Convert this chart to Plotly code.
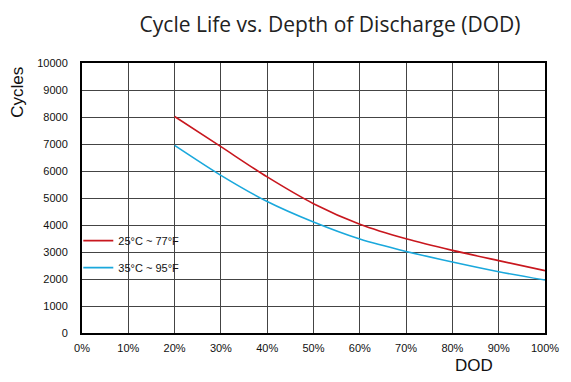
import plotly.graph_objects as go

dod = [20, 30, 40, 50, 60, 70, 80, 90, 100]
cycles_25c = [8020, 6900, 5780, 4790, 4030, 3490, 3060, 2680, 2310]
cycles_35c = [6950, 5840, 4870, 4110, 3480, 3020, 2630, 2270, 1960]
series_names = ["25°C ~ 77°F", "35°C ~ 95°F"]
x_ticks = [0, 10, 20, 30, 40, 50, 60, 70, 80, 90, 100]
y_ticks = [0, 1000, 2000, 3000, 4000, 5000, 6000, 7000, 8000, 9000, 10000]

fig = go.Figure()
fig.add_trace(go.Scatter(x=dod, y=cycles_25c, mode="lines", name=series_names[0],
                         legendgroup="a",
                         line=dict(color="#c8171e", width=1.6, shape="spline", smoothing=0.8)))
fig.add_trace(go.Scatter(x=dod, y=cycles_35c, mode="lines", name=series_names[1],
                         legendgroup="b",
                         line=dict(color="#1aa8dc", width=1.6, shape="spline", smoothing=0.8)))

axis_font = dict(family="Liberation Sans, Arial", size=11, color="#111")
fig.update_layout(
    width=563, height=374,
    margin=dict(l=74, r=26, t=55, b=49),
    paper_bgcolor="white", plot_bgcolor="white",
    title=dict(text="Cycle Life vs. Depth of Discharge (DOD)", x=0.572, xanchor="center",
               y=0.955, yanchor="middle",
               font=dict(family="Open Sans, Noto Sans", size=21, color="#222")),
    xaxis=dict(range=[0, 100], tickvals=x_ticks, ticktext=[f"{v}%" for v in x_ticks],
               showgrid=True, gridcolor="#444", gridwidth=1,
               showline=True, linecolor="black", linewidth=2, mirror=True,
               ticks="", tickfont=axis_font, zeroline=False, fixedrange=True,
               ticklabelstandoff=4),
    yaxis=dict(range=[0, 10000], tickvals=y_ticks, ticktext=[str(v) for v in y_ticks],
               showgrid=True, gridcolor="#444", gridwidth=1,
               showline=True, linecolor="black", linewidth=2, mirror=True,
               ticks="", tickfont=axis_font, zeroline=False, fixedrange=True,
               ticklabelstandoff=10),
    showlegend=True,
    legend=dict(x=-0.008, y=0.396, xanchor="left", yanchor="top",
                bgcolor="rgba(0,0,0,0)", tracegroupgap=8, itemwidth=30,
                font=dict(family="Liberation Sans, Arial", size=11, color="#111")),
    annotations=[
        dict(text="Cycles", xref="paper", yref="paper", x=-0.138, y=0.89,
             xanchor="center", yanchor="middle",
             textangle=-90, showarrow=False,
             font=dict(family="Liberation Sans, Arial", size=17, color="#111")),
        dict(text="DOD", xref="paper", yref="paper", x=0.847, y=-0.122,
             xanchor="center", yanchor="middle", showarrow=False,
             font=dict(family="Liberation Sans, Arial", size=17, color="#111")),
    ],
)

fig.write_html("out.html")
